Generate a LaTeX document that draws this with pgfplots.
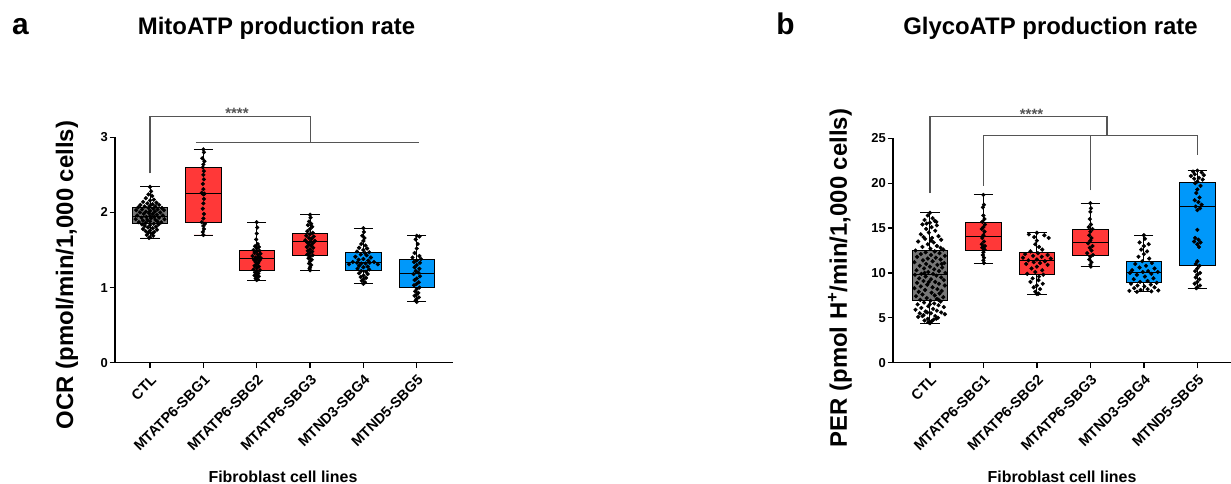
\documentclass[border=0pt]{standalone}
\usepackage{fontspec}
\setmainfont{Liberation Sans}
\usepackage{pgfplots}
\usepackage{pgfplotstable}
\pgfplotsset{compat=1.18}
\usepgfplotslibrary{statistics}
\definecolor{ctlgray}{RGB}{118,118,118}
\definecolor{boxred}{RGB}{255,56,56}
\definecolor{boxblue}{RGB}{0,152,250}
\definecolor{brkcol}{RGB}{85,85,85}

% ---------- panel a data (value, offset from group centre) ----------
\pgfplotstableread{
v o
2.34 0.00
2.28 0.02
2.24 -0.03
2.22 0.04
2.19 -0.08
2.17 0.07
2.16 0.00
2.14 -0.13
2.13 0.12
2.12 -0.05
2.11 0.05
2.10 -0.18
2.10 0.17
2.09 0.00
2.08 -0.10
2.08 0.10
2.07 -0.22
2.06 0.22
2.06 -0.03
2.05 0.06
2.04 -0.15
2.04 0.14
2.03 -0.26
2.03 0.26
2.02 0.00
2.01 -0.08
2.01 0.09
2.00 -0.19
2.00 0.19
1.99 -0.02
1.98 0.05
1.98 -0.12
1.97 0.13
1.96 -0.24
1.96 0.24
1.95 0.00
1.94 -0.07
1.94 0.08
1.93 -0.16
1.93 0.17
1.92 0.02
1.91 -0.27
1.91 0.27
1.90 -0.05
1.90 0.10
1.89 -0.13
1.88 0.14
1.88 0.00
1.87 -0.21
1.87 0.21
1.86 -0.08
1.85 0.07
1.84 -0.15
1.84 0.16
1.83 0.00
1.82 -0.10
1.81 0.11
1.80 -0.04
1.79 0.05
1.78 -0.13
1.77 0.13
1.76 0.00
1.75 -0.08
1.74 0.08
1.73 -0.03
1.72 0.04
1.70 -0.06
1.69 0.06
1.67 0.00
1.66 -0.02
}\aCTL
\pgfplotstableread{
v o
2.84 0.00
2.80 0.01
2.72 -0.02
2.68 0.02
2.64 0.00
2.60 -0.01
2.55 0.01
2.50 0.00
2.44 0.01
2.38 -0.01
2.31 0.00
2.26 -0.03
2.25 0.02
2.24 0.00
2.18 0.01
2.12 0.00
2.05 -0.01
1.98 0.01
1.92 0.00
1.87 -0.03
1.85 0.03
1.82 0.00
1.78 0.01
1.74 -0.01
1.70 0.00
}\aSBGa
\pgfplotstableread{
v o
1.87 0.00
1.80 0.01
1.72 0.00
1.64 -0.01
1.58 0.02
1.55 -0.03
1.54 0.04
1.52 0.00
1.50 -0.06
1.49 0.05
1.48 0.00
1.46 -0.04
1.45 0.07
1.44 0.02
1.42 -0.08
1.41 0.04
1.40 -0.02
1.39 0.08
1.38 0.00
1.37 -0.05
1.36 0.05
1.34 -0.02
1.33 0.03
1.31 0.00
1.29 -0.04
1.28 0.04
1.26 0.00
1.24 -0.06
1.23 0.06
1.22 0.00
1.20 -0.03
1.19 0.03
1.17 0.00
1.16 -0.04
1.15 0.04
1.14 0.00
1.12 -0.02
1.11 0.02
1.10 0.00
}\aSBGb
\pgfplotstableread{
v o
1.97 0.00
1.93 0.01
1.88 -0.02
1.85 0.02
1.83 -0.04
1.81 0.04
1.78 0.00
1.75 -0.05
1.73 0.05
1.71 0.00
1.69 -0.07
1.68 0.07
1.66 -0.02
1.65 0.03
1.63 -0.09
1.62 0.09
1.61 0.00
1.60 -0.05
1.59 0.05
1.57 -0.02
1.56 0.02
1.54 -0.06
1.53 0.06
1.51 0.00
1.49 -0.04
1.48 0.04
1.46 0.00
1.44 -0.05
1.43 0.05
1.41 0.00
1.39 -0.03
1.37 0.03
1.35 0.00
1.32 -0.02
1.30 0.02
1.27 0.00
1.25 -0.01
1.23 0.00
}\aSBGc
\pgfplotstableread{
v o
1.79 0.00
1.74 0.01
1.69 -0.02
1.66 0.02
1.62 0.00
1.58 -0.04
1.56 0.04
1.53 -0.08
1.52 0.07
1.50 0.00
1.48 -0.12
1.47 0.11
1.46 0.03
1.44 -0.05
1.43 0.06
1.41 -0.15
1.40 0.14
1.38 0.00
1.37 -0.09
1.36 0.09
1.34 -0.20
1.34 0.20
1.33 -0.12
1.33 0.12
1.32 -0.04
1.32 0.04
1.31 -0.27
1.31 0.27
1.29 -0.08
1.28 0.08
1.27 0.00
1.25 -0.11
1.24 0.11
1.22 -0.04
1.21 0.05
1.19 -0.08
1.18 0.08
1.16 0.00
1.14 -0.05
1.13 0.05
1.11 0.00
1.09 -0.03
1.07 0.03
1.05 0.00
}\aSBGd
\pgfplotstableread{
v o
1.69 0.00
1.68 0.05
1.64 -0.02
1.58 0.02
1.52 0.00
1.46 -0.04
1.42 0.05
1.40 -0.08
1.38 0.08
1.36 0.00
1.34 -0.05
1.33 0.06
1.30 0.00
1.27 -0.04
1.25 0.05
1.22 -0.02
1.20 0.03
1.18 -0.06
1.15 0.06
1.12 0.00
1.10 -0.04
1.07 0.04
1.05 0.00
1.03 -0.05
1.00 0.05
0.98 0.00
0.95 -0.03
0.93 0.03
0.91 0.00
0.89 -0.04
0.87 0.04
0.85 0.00
0.83 -0.02
0.81 0.00
}\aSBGe

% ---------- panel b data ----------
\pgfplotstableread{
v o
16.7 0.00
16.4 -0.04
16.1 0.05
15.9 -0.10
15.8 0.09
15.7 0.12
15.6 0.00
15.5 -0.06
15.4 -0.14
15.3 0.13
15.1 0.03
14.9 -0.07
14.7 0.10
14.5 -0.02
14.3 -0.17
14.1 0.16
14.0 -0.12
13.9 0.04
13.8 -0.09
13.7 0.21
13.6 0.02
13.5 -0.22
13.4 0.07
13.2 -0.04
13.0 0.13
12.9 -0.14
12.8 0.20
12.7 0.01
12.6 0.25
12.5 -0.27
12.4 0.09
12.3 -0.08
12.2 0.18
12.1 -0.17
12.0 0.02
11.9 0.28
11.8 -0.24
11.7 0.11
11.6 -0.04
11.5 0.20
11.4 -0.13
11.3 0.05
11.2 -0.29
11.1 0.27
11.0 -0.07
11.0 0.22
10.9 0.14
10.8 -0.19
10.7 0.00
10.6 0.23
10.5 -0.11
10.4 0.08
10.3 -0.25
10.2 0.17
10.1 -0.03
10.0 0.29
10.0 -0.10
9.9 -0.16
9.9 0.06
9.8 -0.28
9.7 0.12
9.6 -0.08
9.5 0.21
9.4 -0.20
9.3 0.02
9.2 0.26
9.1 -0.12
9.0 0.10
9.0 -0.02
8.9 -0.24
8.8 0.17
8.7 -0.05
8.6 0.28
8.5 -0.17
8.4 0.05
8.3 -0.29
8.2 0.14
8.1 -0.09
8.0 0.22
7.9 -0.21
7.8 0.03
7.7 0.18
7.6 -0.14
7.5 0.09
7.4 -0.26
7.3 0.25
7.2 -0.06
7.1 0.13
7.0 -0.18
7.0 0.16
6.9 0.01
6.8 0.20
6.7 -0.11
6.6 0.08
6.5 -0.23
6.5 0.00
6.4 0.16
6.3 -0.03
6.2 0.26
6.1 -0.16
6.0 0.06
5.9 -0.27
5.8 0.13
5.7 -0.08
5.6 0.21
5.6 -0.05
5.5 -0.19
5.5 0.02
5.4 0.28
5.3 -0.12
5.2 0.10
5.2 -0.14
5.1 -0.22
5.0 0.15
4.9 -0.04
4.9 0.12
4.8 0.07
4.7 -0.10
4.6 0.03
4.5 -0.03
4.4 0.00
}\bCTL
\pgfplotstableread{
v o
18.7 0.00
17.6 0.01
17.3 -0.01
16.4 0.00
16.0 0.02
15.7 -0.02
15.4 0.03
15.1 0.00
14.9 -0.03
14.6 0.02
14.2 0.00
13.9 -0.02
13.5 0.01
13.2 -0.03
13.0 0.03
12.9 0.00
12.8 -0.02
12.6 0.02
12.3 0.00
12.0 -0.01
11.7 0.01
11.4 0.00
11.1 0.01
}\bSBGa
\pgfplotstableread{
v o
14.48 0.00
14.3 -0.15
14.2 0.14
14.0 -0.05
13.9 0.22
13.6 0.00
13.2 -0.03
12.9 0.04
12.6 0.10
12.4 -0.12
12.2 0.02
12.1 -0.22
12.0 0.20
11.9 -0.07
11.8 0.09
11.7 -0.26
11.6 0.26
11.5 0.00
11.4 -0.16
11.3 0.15
11.2 -0.06
11.1 0.06
11.0 -0.20
10.9 0.20
10.7 0.00
10.5 -0.10
10.3 0.10
10.1 -0.03
9.9 -0.18
9.8 0.12
9.6 0.04
9.4 -0.08
9.2 0.03
9.0 -0.12
8.8 0.11
8.6 0.00
8.4 -0.06
8.2 0.06
7.9 -0.03
7.7 0.03
7.65 0.00
}\bSBGb
\pgfplotstableread{
v o
17.78 0.00
17.2 0.01
16.8 0.00
16.0 -0.01
15.4 0.01
15.1 -0.03
14.9 0.04
14.6 0.00
14.2 -0.02
13.9 0.02
13.6 0.00
13.3 -0.04
13.0 0.04
12.8 -0.01
12.5 0.02
12.2 -0.06
12.0 0.05
11.8 0.00
11.5 -0.02
11.2 0.02
10.9 0.00
10.7 0.01
}\bSBGc
\pgfplotstableread{
v o
14.2 0.00
13.8 0.02
13.4 -0.08
13.2 0.09
13.0 0.00
12.6 -0.05
12.4 0.06
12.1 0.00
11.8 -0.10
11.6 0.10
11.3 -0.03
11.1 0.15
11.0 -0.16
10.8 0.04
10.6 -0.08
10.5 0.20
10.3 -0.22
10.2 0.08
10.1 -0.02
10.1 0.26
10.0 -0.26
9.9 0.14
9.8 -0.13
9.6 0.02
9.4 0.18
9.3 -0.19
9.1 0.07
9.0 -0.07
8.9 0.24
8.8 -0.24
8.7 0.13
8.6 -0.12
8.5 0.01
8.4 0.20
8.3 -0.18
8.2 0.07
8.1 -0.06
8.05 0.27
8.0 -0.27
7.95 0.14
7.9 -0.13
}\bSBGd
\pgfplotstableread{
v o
21.4 0.00
21.3 -0.08
21.2 0.08
21.0 -0.05
20.9 0.12
20.8 -0.12
20.6 0.03
20.5 -0.06
20.4 0.10
20.2 0.00
20.0 -0.04
19.7 0.06
19.3 0.00
18.9 -0.02
18.4 0.04
18.1 -0.05
17.9 0.02
17.6 0.08
17.4 -0.03
17.2 0.05
17.0 0.00
14.8 0.00
13.9 -0.04
13.7 0.02
13.5 -0.06
13.4 0.06
13.2 0.00
12.9 0.03
11.3 0.00
11.0 -0.03
10.8 0.04
10.5 0.00
10.2 -0.04
10.0 0.05
9.8 0.00
9.5 -0.03
9.3 0.04
9.0 0.00
8.8 -0.05
8.6 0.05
8.4 0.00
8.3 -0.02
}\bSBGe

\pgfplotsset{
  gp/.style={
    scale only axis,
    axis x line*=bottom, axis y line*=left,
    axis line style={-, line width=1.5bp, black},
    tick align=outside, major tick length=5.5bp,
    tick style={black, line width=1.3bp},
    xtick={0,1,2,3,4,5},
    xticklabels={CTL,MTATP6-SBG1,MTATP6-SBG2,MTATP6-SBG3,MTND3-SBG4,MTND5-SBG5},
    xticklabel shift=3.5bp,
    xticklabel style={rotate=45, anchor=north east, inner sep=1.5bp,
      font=\fontsize{14.5}{16}\selectfont\bfseries},
    yticklabel style={inner sep=1.5bp, font=\fontsize{13}{15}\selectfont\bfseries},
    /pgf/number format/assume math mode=true,
    clip=false,
    boxplot/draw direction=y,
    xlabel={Fibroblast cell lines},
    xlabel style={font=\fontsize{16}{18}\selectfont\bfseries, anchor=center, inner sep=0pt},
    ylabel style={font=\fontsize{24}{28}\selectfont\bfseries, anchor=center, inner sep=0pt},
  },
  dots/.style={only marks, mark=*, mark size=1.9bp, black, mark options={draw=black, fill=black}},
  bx/.style={draw=black, line width=0.9bp, fill=#1},
  brkline/.style={draw=brkcol, line width=1.2bp, mark=none},
}

\begin{document}
\begin{tikzpicture}
\path[use as bounding box] (0,0) rectangle (1231bp,484bp);

\node[font=\fontsize{30}{32}\selectfont\bfseries, anchor=base] at (20.5bp,449bp) {a};
\node[font=\fontsize{24}{26}\selectfont\bfseries, anchor=base] at (276.5bp,449bp) {MitoATP production rate};
\node[font=\fontsize{30}{32}\selectfont\bfseries, anchor=base] at (785.5bp,449bp) {b};
\node[font=\fontsize{24}{26}\selectfont\bfseries, anchor=base] at (1050.5bp,449bp) {GlycoATP production rate};

% ---------------- panel a ----------------
\begin{axis}[gp, at={(115bp,121.3bp)}, anchor=south west,
  width=338bp, height=225.4bp,
  xmin=-0.657, xmax=5.68, ymin=0, ymax=3, ytick={0,1,2,3},
  ylabel={OCR (pmol/min/1,000 cells)},
  ylabel style={at={(axis description cs:-0.142,0.389)}},
  xlabel style={at={(axis description cs:0.497,-0.506)}},
]
\addplot[brkline] coordinates {(0,2.52) (0,3.276) (3.01,3.276) (3.01,2.93)};
\addplot[brkline] coordinates {(0.86,2.93) (5.05,2.93)};
\node[font=\fontsize{15}{16}\selectfont\bfseries, anchor=base, text=brkcol, inner sep=0pt] at (axis cs:1.63,3.25) {****};

\addplot[bx=ctlgray, boxplot prepared={lower whisker=1.66, lower quartile=1.85, median=1.95, upper quartile=2.06, upper whisker=2.34, draw position=0, box extend=0.66, whisker extend=0.36}] coordinates {};
\addplot[bx=boxred, boxplot prepared={lower whisker=1.70, lower quartile=1.87, median=2.25, upper quartile=2.60, upper whisker=2.84, draw position=1, box extend=0.66, whisker extend=0.36}] coordinates {};
\addplot[bx=boxred, boxplot prepared={lower whisker=1.10, lower quartile=1.23, median=1.39, upper quartile=1.50, upper whisker=1.87, draw position=2, box extend=0.66, whisker extend=0.36}] coordinates {};
\addplot[bx=boxred, boxplot prepared={lower whisker=1.23, lower quartile=1.43, median=1.62, upper quartile=1.72, upper whisker=1.97, draw position=3, box extend=0.66, whisker extend=0.36}] coordinates {};
\addplot[bx=boxblue, boxplot prepared={lower whisker=1.05, lower quartile=1.23, median=1.33, upper quartile=1.47, upper whisker=1.79, draw position=4, box extend=0.66, whisker extend=0.36}] coordinates {};
\addplot[bx=boxblue, boxplot prepared={lower whisker=0.81, lower quartile=1.00, median=1.19, upper quartile=1.37, upper whisker=1.69, draw position=5, box extend=0.66, whisker extend=0.36}] coordinates {};

\addplot[dots] table[x expr=\thisrow{o}+0, y=v] {\aCTL};
\addplot[dots] table[x expr=\thisrow{o}+1, y=v] {\aSBGa};
\addplot[dots] table[x expr=\thisrow{o}+2, y=v] {\aSBGb};
\addplot[dots] table[x expr=\thisrow{o}+3, y=v] {\aSBGc};
\addplot[dots] table[x expr=\thisrow{o}+4, y=v] {\aSBGd};
\addplot[dots] table[x expr=\thisrow{o}+5, y=v] {\aSBGe};
\end{axis}

% ---------------- panel b ----------------
\begin{axis}[gp, at={(893bp,121.3bp)}, anchor=south west,
  width=340.7bp, height=224.4bp,
  xmin=-0.69, xmax=5.68, ymin=0, ymax=25, ytick={0,5,10,15,20,25},
  ylabel={PER (pmol H\textsuperscript{+}/min/1,000 cells)},
  ylabel style={at={(axis description cs:-0.156,0.377)}},
  xlabel style={at={(axis description cs:0.496,-0.508)}},
]
\addplot[brkline] coordinates {(0,18.9) (0,27.4) (3.31,27.4) (3.31,25.3)};
\addplot[brkline] coordinates {(1,19.7) (1,25.3) (5,25.3) (5,23.1)};
\addplot[brkline] coordinates {(3,19.2) (3,25.3)};
\node[font=\fontsize{15}{16}\selectfont\bfseries, anchor=base, text=brkcol, inner sep=0pt] at (axis cs:1.90,27.14) {****};

\addplot[bx=ctlgray, boxplot prepared={lower whisker=4.38, lower quartile=6.98, median=9.88, upper quartile=12.55, upper whisker=16.7, draw position=0, box extend=0.66, whisker extend=0.36}] coordinates {};
\addplot[bx=boxred, boxplot prepared={lower whisker=11.07, lower quartile=12.51, median=14.03, upper quartile=15.67, upper whisker=18.7, draw position=1, box extend=0.66, whisker extend=0.36}] coordinates {};
\addplot[bx=boxred, boxplot prepared={lower whisker=7.65, lower quartile=9.8, median=11.44, upper quartile=12.25, upper whisker=14.48, draw position=2, box extend=0.66, whisker extend=0.36}] coordinates {};
\addplot[bx=boxred, boxplot prepared={lower whisker=10.7, lower quartile=12.0, median=13.36, upper quartile=14.85, upper whisker=17.78, draw position=3, box extend=0.66, whisker extend=0.36}] coordinates {};
\addplot[bx=boxblue, boxplot prepared={lower whisker=7.9, lower quartile=8.9, median=10.1, upper quartile=11.29, upper whisker=14.2, draw position=4, box extend=0.66, whisker extend=0.36}] coordinates {};
\addplot[bx=boxblue, boxplot prepared={lower whisker=8.28, lower quartile=10.84, median=17.37, upper quartile=20.1, upper whisker=21.4, draw position=5, box extend=0.66, whisker extend=0.36}] coordinates {};

\addplot[dots] table[x expr=\thisrow{o}+0, y=v] {\bCTL};
\addplot[dots] table[x expr=\thisrow{o}+1, y=v] {\bSBGa};
\addplot[dots] table[x expr=\thisrow{o}+2, y=v] {\bSBGb};
\addplot[dots] table[x expr=\thisrow{o}+3, y=v] {\bSBGc};
\addplot[dots] table[x expr=\thisrow{o}+4, y=v] {\bSBGd};
\addplot[dots] table[x expr=\thisrow{o}+5, y=v] {\bSBGe};
\end{axis}
\end{tikzpicture}
\end{document}
